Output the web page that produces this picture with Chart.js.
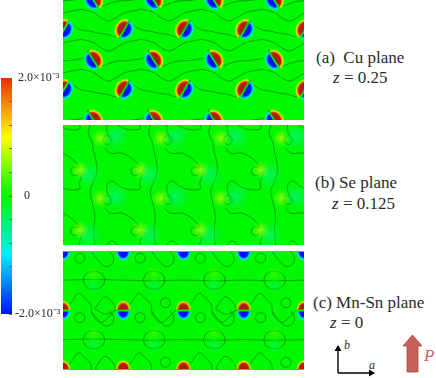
<!DOCTYPE html>
<html>
<head>
<meta charset="utf-8">
<title>Charge density planes</title>
<script src="https://cdn.jsdelivr.net/npm/chart.js@4"></script>
<style>
  html, body { margin: 0; padding: 0; background: #fff; }
  body { position: relative; width: 436px; height: 378px; overflow: hidden; font-family: 'Liberation Serif', serif; color: #2b2b2b; }
  canvas { position: absolute; }
  .panel { background: rgb(0,248,0); filter: blur(0.4px); }
  .t { position: absolute; font-size: 17px; line-height: 20px; white-space: nowrap; }
  i { font-style: italic; }
</style>
</head>
<body>
<canvas id="bar" width="63" height="270" style="left:0;top:60px"></canvas>
<canvas id="cu" class="panel" width="241" height="120" style="left:63px;top:0"></canvas>
<canvas id="se" class="panel" width="241" height="120" style="left:63px;top:125px"></canvas>
<canvas id="mn" class="panel" width="241" height="119" style="left:63px;top:251px"></canvas>

<div class="t" style="left:316px;top:48px">(a)&nbsp; Cu plane</div>
<div class="t" style="left:333px;top:68px"><i>z</i> = 0.25</div>
<div class="t" style="left:315px;top:173px">(b) Se plane</div>
<div class="t" style="left:332px;top:194px"><i>z</i> = 0.125</div>
<div class="t" style="left:313px;top:293px">(c) Mn-Sn plane</div>
<div class="t" style="left:330px;top:313px"><i>z</i> = 0</div>
<div class="t" style="left:344px;top:338px;font-size:12px;line-height:14px"><i>b</i></div>
<div class="t" style="left:369px;top:358px;font-size:12px;line-height:14px"><i>a</i></div>
<div class="t" style="left:424px;top:346px;font-size:17px;color:#c9655d"><i>P</i></div>

<svg width="436" height="378" style="position:absolute;left:0;top:0">
  <path d="M338 373V349M338 373H371" stroke="#000" stroke-width="1.4" fill="none"/>
  <path d="M338 345l-3.5 6h7zM375 373l-6-3.5v7z" fill="#000"/>
  <path d="M412.5 335L422 346H418V372H407V346H403Z" fill="#c8605a" stroke="#a84a44" stroke-width="0.8"/>
</svg>

<script>
/* ── colour scale, in units of 10^-3 ── */
const colorStops = [
  [-2.0, 0, 16, 255], [-1.0, 0, 235, 255], [0, 0, 248, 0],
  [1.0, 255, 255, 0], [2.0, 240, 44, 0], [2.7, 175, 32, 10],
];
const barMin = -2, barMax = 2, barStep = 0.4;
const tickValues = [2, 0, -2];
const tickLabels = [' 2.0×10⁻³', '   0', '-2.0×10⁻³'];

/* ── Cu plane (a): red / blue lobe pairs, on the line that splits them ── */
const cuRightX = [0.017, 1.017, 2.017, 3.017, 4.017, 0.017, 1.017, 2.017, 3.017, 4.017];
const cuRightY = [1.51, 1.51, 1.51, 1.51, 1.51, 0.51, 0.51, 0.51, 0.51, 0.51];
const cuLeftX  = [0.505, 1.505, 2.505, 3.505, 0.505, 1.505, 2.505, 3.505, 0.505, 1.505, 2.505, 3.505];
const cuLeftY  = [2.0, 2.0, 2.0, 2.0, 1.0, 1.0, 1.0, 1.0, 0, 0, 0, 0];
const cuWaveX = [0.28, 0.51, 0.62, 0.76, 0.89, 1.03, 1.28];
const cuWaveY = [1.85, 1.79, 1.71, 1.65, 1.71, 1.79, 1.84];
const cuWaveRows = [0.5, 0, -0.5, -1];
const cuRightLineX = [1.11, 1.2, 1.31, 1.45, 1.62, 1.73, 1.85, 1.92, 2.01, 2.11];
const cuRightLineY = [1.66, 1.56, 1.5, 1.48, 1.44, 1.43, 1.39, 1.4, 1.51, 1.66];
const cuLeftLineX = [0.42, 0.51, 0.62, 0.76, 0.89, 1.06, 1.23, 1.34, 1.42];
const cuLeftLineY = [1.17, 1.01, 0.9, 0.94, 0.98, 0.99, 1.01, 1.04, 1.17];

/* ── Se plane (b) ── */
const seYellowX = [0.28, 0.62];
const seYellowY = [1.25, 1.78];
const seCyanX = [0.42, 0.87];
const seCyanY = [1.17, 1.81];
const seLoopX = [0.74, 0.74, 0.2, 0.2];
const seLoopY = [1.75, 0.75, 1.23, 0.23];
const seSideX = [0.45, 0.42, 0.48, 0.51, 0.55, 0.56, 0.51, 0.45, 0.49, 0.53, 0.51, 0.53];
const seSideY = [2.0, 1.86, 1.72, 1.56, 1.39, 1.22, 1.06, 0.89, 0.69, 0.47, 0.25, 0];
const seCurveX = [0.7, 0.78, 0.98, 1.17, 1.28, 1.31, 1.27, 1.28, 1.12, 0.95, 0.81, 0.73, 0.74, 0.81];
const seCurveY = [1.61, 1.53, 1.53, 1.42, 1.28, 1.17, 1.03, 0.94, 0.92, 0.97, 1.07, 1.0, 0.86, 0.72];

/* ── Mn-Sn plane (c) ── */
const mnPairX = [0, 1, 2, 3, 4, 0, 1, 2, 3, 4, 0, 1, 2, 3, 4];
const mnPairY = [2, 2, 2, 2, 2, 1, 1, 1, 1, 1, 0, 0, 0, 0, 0];
const mnBandX = [0.51, 1.51, 2.51, 3.51, 0.51, 1.51, 2.51, 3.51];
const mnBandTopY = [1.61, 1.61, 1.61, 1.61, 0.61, 0.61, 0.61, 0.61];
const mnBandLowY = [1.42, 1.42, 1.42, 1.42, 0.42, 0.42, 0.42, 0.42];
const mnFlatX = [0, 0.5, 1, 1.5, 2, 2.5, 3, 3.5, 4];
const mnFlatY = [1.51, 1.52, 1.51, 1.5, 1.51, 1.5, 1.51, 1.5, 1.51];
const mnRingX = [0.33, 0.38, 0.51, 0.64, 0.69, 0.64, 0.51, 0.38, 0.33];
const mnRingY = [1.51, 1.62, 1.66, 1.62, 1.51, 1.4, 1.36, 1.4, 1.51];
const mnDiagX = [0.48, 0.56, 0.7, 0.81, 0.84, 0.78];
const mnDiagY = [1.98, 1.87, 1.74, 1.78, 1.89, 1.99];
const mnWaveX = [0.06, 0.16, 0.26, 0.37, 0.46, 0.48, 0.56, 0.64, 0.76, 0.89, 1.06];
const mnWaveY = [1.03, 1.17, 1.29, 1.2, 1.1, 0.95, 0.84, 0.8, 0.89, 1.01, 1.03];
const mnHumpX = [0.53, 0.7, 0.87, 0.7, 0.53];
const mnHumpY = [1.03, 1.23, 1.03, 0.94, 1.03];
const mnSmallX = [0.28, 1.28, 2.28, 3.28, 0.28, 1.28, 2.28, 3.28, 1.7, 3.7, 1.7, 3.7];
const mnSmallY = [1.88, 1.88, 1.88, 1.88, 0.88, 0.88, 0.88, 0.88, 1.13, 1.13, 0.13, 0.13];

const cellsX = [-1, 0, 1, 2, 3, 4];
const lineColor = 'rgba(0,70,0,0.65)';

/* ── helpers ── */
function colorOf(v) {
  for (let i = 1; i < colorStops.length; i++) {
    const a = colorStops[i - 1], b = colorStops[i];
    if (v <= b[0]) {
      const t = Math.max(0, (v - a[0]) / (b[0] - a[0]));
      return [1, 2, 3].map(k => Math.round(a[k] + (b[k] - a[k]) * t));
    }
  }
  return colorStops[colorStops.length - 1].slice(1);
}

function pts(xs, ys) { return xs.map((x, i) => ({ x, y: ys[i] })); }

// half an ellipse, a thin sliver away from the pair's split line
function halfBlob(rx, ry, peak, side, vertical) {
  const gap = 1.1;
  const size = Math.ceil(Math.max(rx, ry)) * 2 + 6;
  const c = document.createElement('canvas');
  c.width = c.height = size;
  const g = c.getContext('2d');
  g.translate(size / 2, size / 2);
  g.beginPath();
  if (vertical) g.rect(-size, side > 0 ? gap : -size - gap, size * 2, size);
  else g.rect(side > 0 ? gap : -size - gap, -size, size, size * 2);
  g.clip();
  const steps = 30;
  for (let i = 0; i < steps; i++) {
    const r = 1 - i / steps;
    const rgb = colorOf(peak * Math.min(1, (1 - r) * 2.6 + 0.05));
    g.fillStyle = `rgb(${rgb})`;
    g.beginPath();
    g.ellipse(0, 0, rx * r, ry * r, 0, 0, Math.PI * 2);
    g.fill();
  }
  return c;
}

function softBlob(r, v) {
  const size = r * 2 + 2;
  const c = document.createElement('canvas');
  c.width = c.height = size;
  const g = c.getContext('2d');
  const rgb = colorOf(v);
  const grad = g.createRadialGradient(size / 2, size / 2, 0, size / 2, size / 2, r);
  grad.addColorStop(0, `rgba(${rgb},1)`);
  grad.addColorStop(0.35, `rgba(${rgb},0.55)`);
  grad.addColorStop(1, `rgba(${rgb},0)`);
  g.fillStyle = grad;
  g.fillRect(0, 0, size, size);
  return c;
}

function marks(data, sprite, rotation) {
  return { data, pointStyle: sprite, rotation: rotation || 0, pointRadius: 16, showLine: false };
}

function contour(data) {
  return { data, showLine: true, tension: 0.35, borderColor: lineColor, borderWidth: 0.7, pointRadius: 0 };
}

function rings(data, radius) {
  return { data, showLine: false, pointRadius: radius, borderColor: lineColor, pointBorderWidth: 0.7,
           pointBackgroundColor: 'transparent', pointBorderColor: lineColor };
}

function repeat(xs, ys, rowsY) {
  const out = [];
  cellsX.forEach(dx => rowsY.forEach(dy => {
    out.push(contour(xs.map((x, i) => ({ x: x + dx, y: ys[i] + dy }))));
  }));
  return out;
}

function panel(id, datasets) {
  const opts = {
    animation: false, responsive: false, events: [],
    layout: { padding: 0, autoPadding: false },
    plugins: { legend: { display: false }, tooltip: { enabled: false } },
    scales: {
      x: { type: 'linear', display: false, min: 0, max: 4 },
      y: { type: 'linear', display: false, min: 0, max: 2 },
    },
  };
  new Chart(document.getElementById(id), { type: 'scatter', data: { datasets }, options: opts });
}

/* ── panels ── */
const repeatPts = (xs, ys, ox, oy) => ox.flatMap(dx => oy.flatMap(dy => xs.map((x, i) => ({ x: x + dx, y: ys[i] + dy }))));

panel('cu', [
  marks(pts(cuRightX, cuRightY), halfBlob(9.5, 11, 2.7, -1), 30),
  marks(pts(cuRightX, cuRightY), halfBlob(9.5, 11, -2, 1), 30),
  marks(pts(cuLeftX, cuLeftY), halfBlob(9.5, 11, 2.7, 1), -32),
  marks(pts(cuLeftX, cuLeftY), halfBlob(9.5, 11, -2, -1), -32),
  ...repeat(cuWaveX, cuWaveY, cuWaveRows),
  ...repeat(cuRightLineX, cuRightLineY, [0, -1]),
  ...repeat(cuLeftLineX, cuLeftLineY, [1, 0, -1]),
]);

panel('se', [
  marks(repeatPts(seYellowX, seYellowY, cellsX, [0, -1]), softBlob(9, 0.6)),
  marks(repeatPts(seCyanX, seCyanY, cellsX, [0, -1]), softBlob(14, -0.4)),
  ...repeat(seSideX, seSideY, [0]),
  ...repeat(seCurveX, seCurveY, [1, 0, -1]),
  rings(repeatPts(seLoopX, seLoopY, cellsX, [0]), 4.4),
]);

panel('mn', [
  marks(pts(mnBandX, mnBandTopY), softBlob(9, 0.2)),
  marks(pts(mnBandX, mnBandLowY), softBlob(9, -0.25)),
  marks(pts(mnPairX, mnPairY), halfBlob(7.5, 10, 2.7, -1, true)),
  marks(pts(mnPairX, mnPairY), halfBlob(7.5, 10, -2, 1, true)),
  contour(pts(mnFlatX, mnFlatY)),
  contour(pts(mnFlatX, mnFlatY.map(y => y - 1))),
  ...repeat(mnRingX, mnRingY, [0, -1]),
  ...repeat(mnDiagX, mnDiagY, [0, -1]),
  ...repeat(mnWaveX, mnWaveY, [0, -1]),
  contour(pts(mnHumpX, mnHumpY)),
  contour(pts(mnHumpX.map(x => x + 2), mnHumpY)),
  contour(pts(mnHumpX, mnHumpY.map(y => y - 1))),
  contour(pts(mnHumpX.map(x => x + 2), mnHumpY.map(y => y - 1))),
  rings(pts(mnSmallX, mnSmallY), 5),
]);

/* ── colour bar ── */
new Chart(document.getElementById('bar'), {
  type: 'bar',
  data: {
    labels: [''],
    datasets: [{
      data: [[barMin, barMax]],
      barPercentage: 1,
      categoryPercentage: 1,
      backgroundColor: (ctx) => {
        const area = ctx.chart.chartArea;
        if (!area) return '#00f800';
        const grad = ctx.chart.ctx.createLinearGradient(0, area.bottom, 0, area.top);
        colorStops.slice(0, 5).forEach(s => grad.addColorStop((s[0] - barMin) / (barMax - barMin), `rgb(${s[1]},${s[2]},${s[3]})`));
        return grad;
      },
    }],
  },
  options: {
    animation: false, responsive: false, events: [],
    layout: { padding: { left: 1, top: 18, bottom: 16, right: 0 } },
    plugins: { legend: { display: false }, tooltip: { enabled: false } },
    scales: {
      x: { display: false },
      y: {
        position: 'right', min: barMin, max: barMax,
        afterFit: (s) => { s.width = 51; },
        border: { display: false },
        grid: { drawOnChartArea: false, drawTicks: true, tickLength: -3, color: '#6a6a40', z: 2 },
        ticks: {
          stepSize: barStep, padding: 6, autoSkip: false, maxRotation: 0,
          color: '#2b2b2b', font: { family: "'Liberation Serif'", size: 12 },
          callback: (v) => {
            const i = tickValues.indexOf(Math.round(v * 10) / 10);
            return i < 0 ? '' : tickLabels[i];
          },
        },
      },
    },
  },
});
</script>
</body>
</html>
